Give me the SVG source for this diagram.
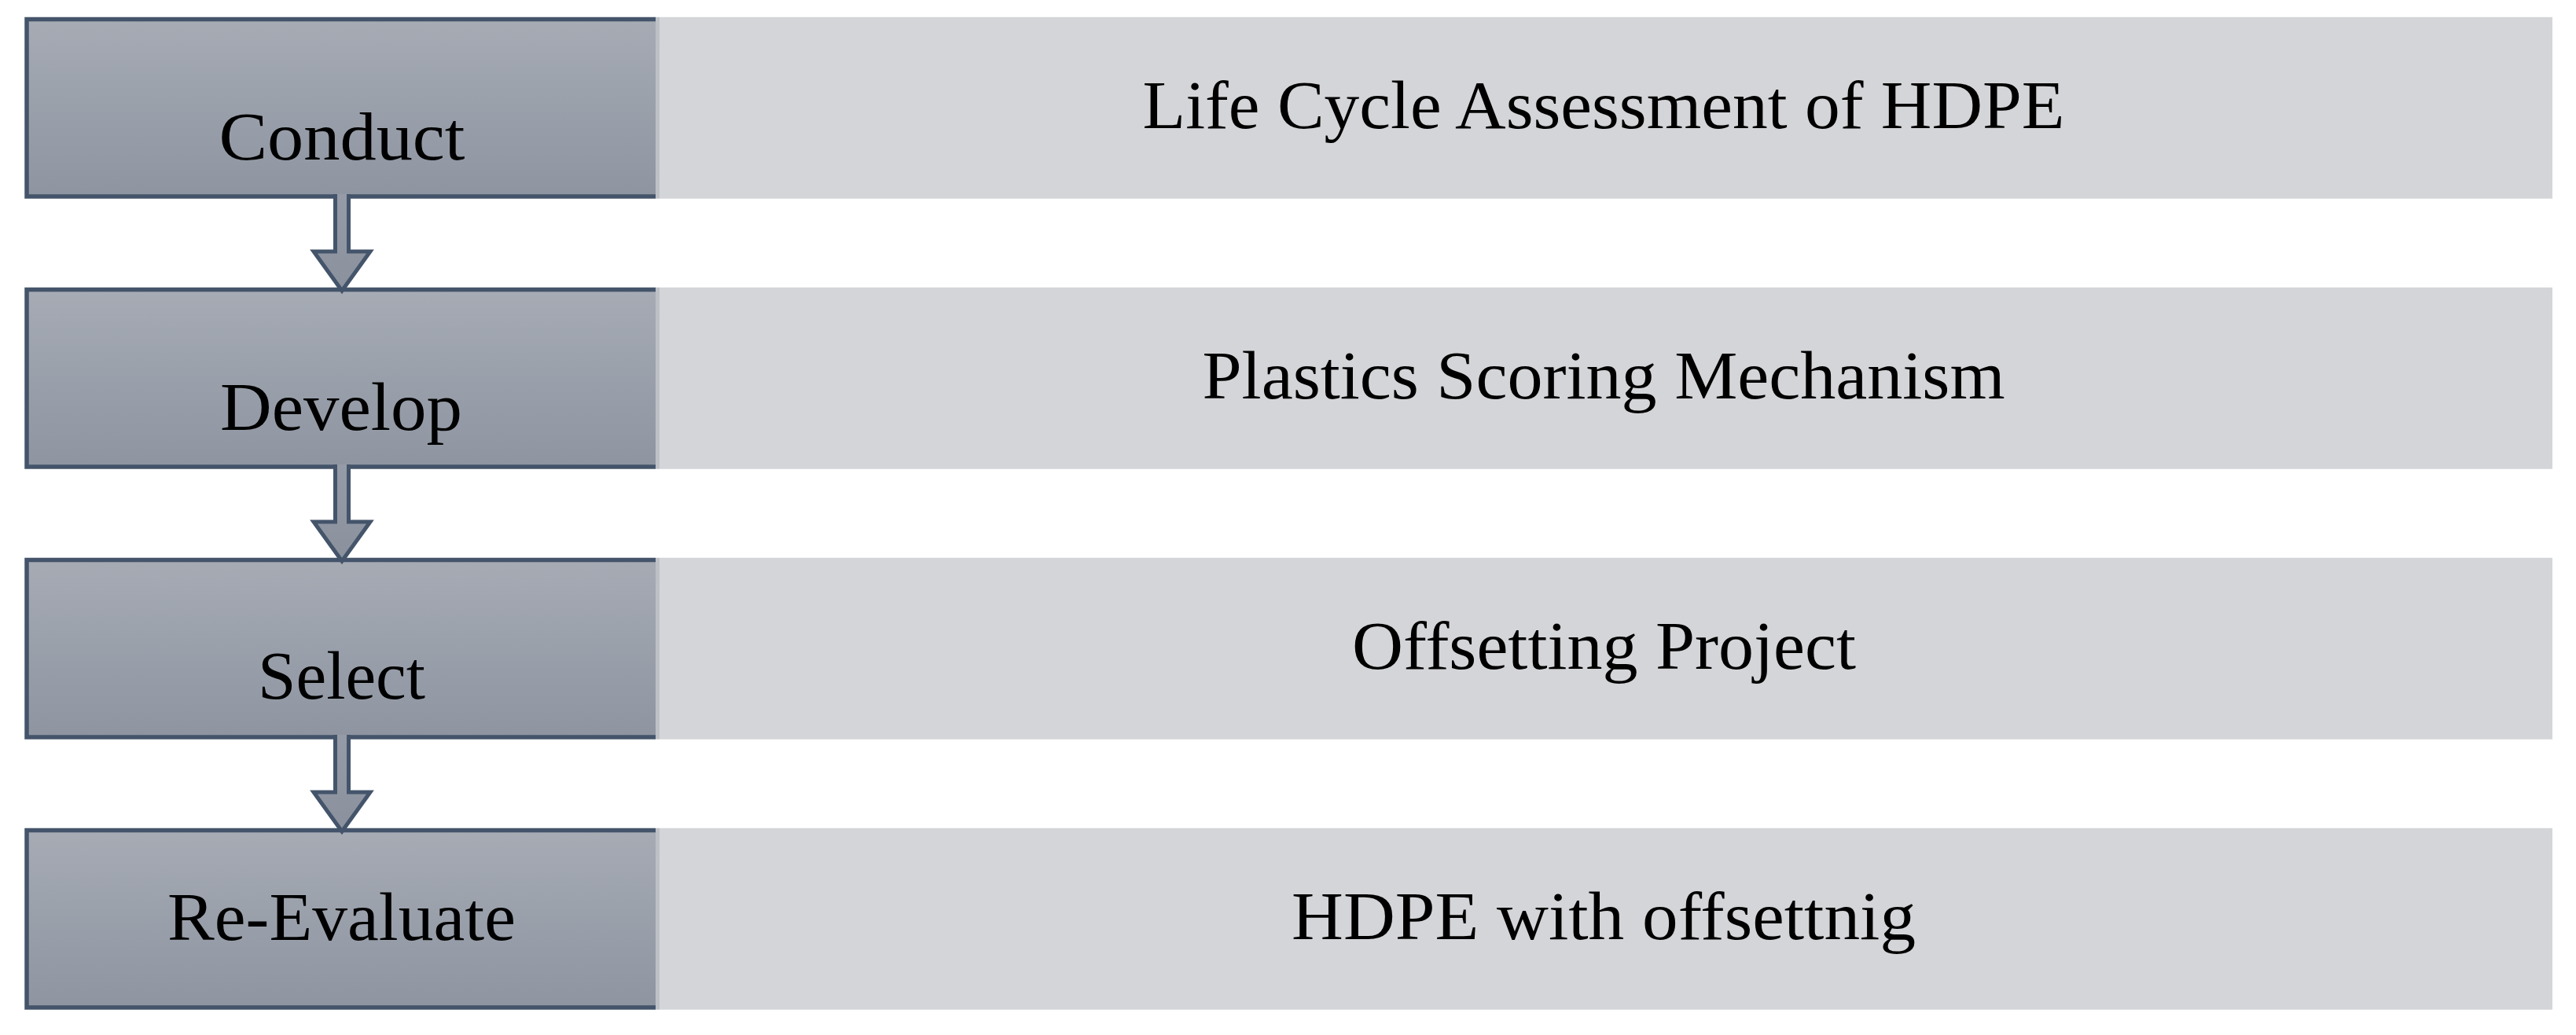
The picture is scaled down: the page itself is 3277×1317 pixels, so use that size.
<svg xmlns="http://www.w3.org/2000/svg" width="3277" height="1317" viewBox="0 0 3277 1317">
<defs>
<linearGradient id="boxGrad" x1="0" y1="0" x2="0" y2="1">
<stop offset="0" stop-color="#a6abb4"/>
<stop offset="1" stop-color="#8e95a1"/>
</linearGradient>
<linearGradient id="arrGrad" x1="0" y1="0" x2="0" y2="1">
<stop offset="0" stop-color="#959ca7"/>
<stop offset="1" stop-color="#8a919d"/>
</linearGradient>
</defs>
<style>
.boxfill{fill:url(#boxGrad);}
.border{fill:none;stroke:#44546a;stroke-width:5.5;stroke-linejoin:miter;}
.strip{fill:#bdc1c6;}
.panel{fill:#d4d5d8;}
.arrow{fill:url(#arrGrad);stroke:#44546a;stroke-width:5;stroke-linejoin:miter;stroke-miterlimit:10;}
.lbl{font-family:"Liberation Serif","Times New Roman",serif;font-size:86px;fill:#000;text-anchor:middle;}
</style>
<rect x="0" y="0" width="3277" height="1317" fill="#ffffff"/>

<g id="row1">
<g id="node-conduct">
<rect class="boxfill" x="34" y="24.5" width="800" height="225.5"/>
<path class="border" d="M834,24.5 H34 V250 H834"/>
<text class="lbl" x="435" y="203" textLength="313" lengthAdjust="spacingAndGlyphs">Conduct</text>
</g>
<g id="node-lca">
<rect class="strip" x="834" y="21.75" width="5" height="231"/>
<rect class="panel" x="839" y="21.75" width="2408" height="231"/>
<text class="lbl" x="2040" y="162.5" textLength="1173" lengthAdjust="spacingAndGlyphs">Life Cycle Assessment of HDPE</text>
</g>
</g>

<g id="row2">
<g id="node-develop">
<rect class="boxfill" x="34" y="368.5" width="800" height="225.5"/>
<path class="border" d="M834,368.5 H34 V594 H834"/>
<text class="lbl" x="434" y="546.5" textLength="308" lengthAdjust="spacingAndGlyphs">Develop</text>
</g>
<g id="node-psm">
<rect class="strip" x="834" y="365.75" width="5" height="231"/>
<rect class="panel" x="839" y="365.75" width="2408" height="231"/>
<text class="lbl" x="2040" y="506.5" textLength="1021" lengthAdjust="spacingAndGlyphs">Plastics Scoring Mechanism</text>
</g>
</g>

<g id="row3">
<g id="node-select">
<rect class="boxfill" x="34" y="712.5" width="800" height="225.5"/>
<path class="border" d="M834,712.5 H34 V938 H834"/>
<text class="lbl" x="434.5" y="889" textLength="213" lengthAdjust="spacingAndGlyphs">Select</text>
</g>
<g id="node-offset">
<rect class="strip" x="834" y="709.75" width="5" height="231"/>
<rect class="panel" x="839" y="709.75" width="2408" height="231"/>
<text class="lbl" x="2040.5" y="850.5" textLength="641" lengthAdjust="spacingAndGlyphs">Offsetting Project</text>
</g>
</g>

<g id="row4">
<g id="node-reevaluate">
<rect class="boxfill" x="34" y="1056.5" width="800" height="225.5"/>
<path class="border" d="M834,1056.5 H34 V1282 H834"/>
<text class="lbl" x="434.5" y="1196" textLength="443" lengthAdjust="spacingAndGlyphs">Re-Evaluate</text>
</g>
<g id="node-hdpe">
<rect class="strip" x="834" y="1053.75" width="5" height="231"/>
<rect class="panel" x="839" y="1053.75" width="2408" height="231"/>
<text class="lbl" x="2040" y="1194.5" textLength="794" lengthAdjust="spacingAndGlyphs">HDPE with offsettnig</text>
</g>
</g>

<g id="connectors">
<path class="arrow" d="M426.5,247 V320 H399 L435,370 L471,320 H443.5 V247"/>
<path class="arrow" d="M426.5,591 V664 H399 L435,714 L471,664 H443.5 V591"/>
<path class="arrow" d="M426.5,935 V1008 H399 L435,1058 L471,1008 H443.5 V935"/>
</g>
</svg>
